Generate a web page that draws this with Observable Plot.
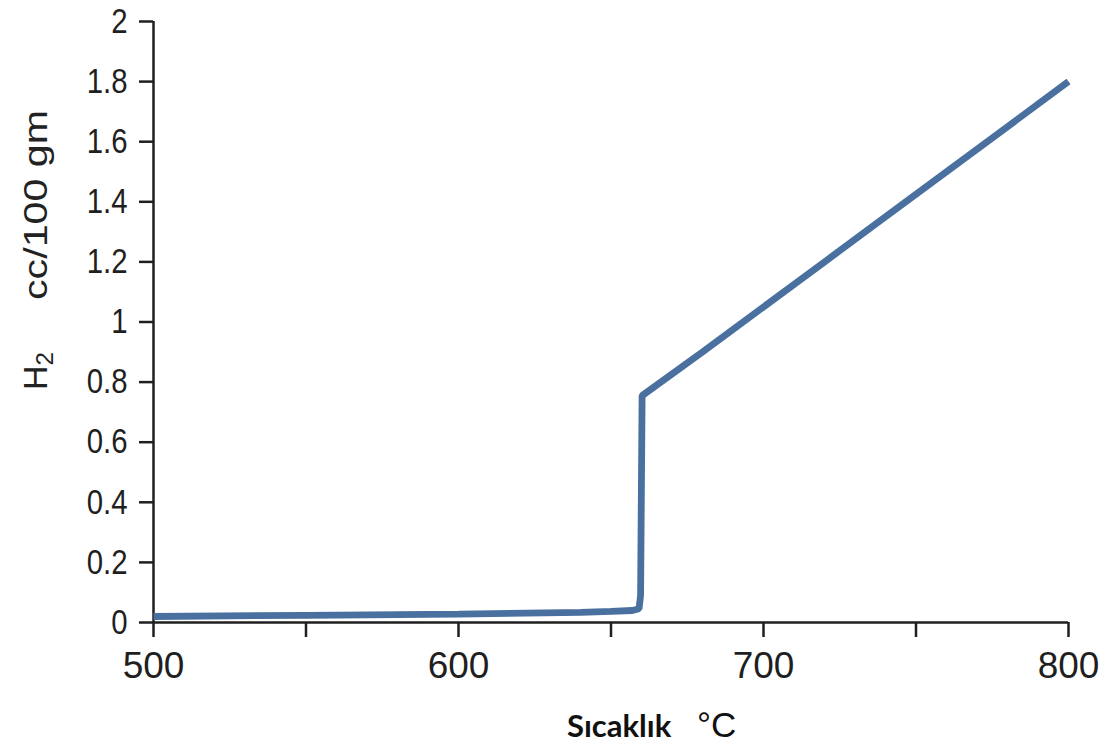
<!DOCTYPE html>
<html><head><meta charset="utf-8">
<script src="https://cdn.jsdelivr.net/npm/d3@7"></script>
<script src="https://cdn.jsdelivr.net/npm/@observablehq/plot@0.6"></script>
<style>
body{margin:0;background:#fff}
svg{display:block}
</style>
</head><body><div id="chart"></div>
<script>
// Temperature (°C) and dissolved hydrogen (cc/100 gm)
const temperature = [500, 550, 600, 640, 650, 657, 659.2, 659.7, 660.2, 680, 700, 720, 740, 760, 780, 800];
const hydrogen    = [0.02, 0.024, 0.028, 0.034, 0.037, 0.04, 0.046, 0.09, 0.755, 0.9, 1.05, 1.2, 1.35, 1.5, 1.65, 1.8];
const xTicks = [500, 550, 600, 650, 700, 750, 800];
const xTickLabels = ["500", "", "600", "", "700", "", "800"];
const yTicks = [0, 0.2, 0.4, 0.6, 0.8, 1, 1.2, 1.4, 1.6, 1.8, 2];
const yTickLabels = ["0", "0.2", "0.4", "0.6", "0.8", "1", "1.2", "1.4", "1.6", "1.8", "2"];
const xTitle = ["Sıcaklık", "°C"];
const yTitle = ["H", "2", "cc/100 gm"];

const data = temperature.map((t, i) => ({t, h: hydrogen[i]}));
const axisColor = "#1f1f1f";

const plot = Plot.plot({
  width: 1104,
  height: 745,
  marginLeft: 153,
  marginRight: 36,
  marginTop: 21,
  marginBottom: 123,
  style: {fontFamily: "'Liberation Sans', Arial, sans-serif", color: axisColor, background: "#fff"},
  x: {domain: [500, 800]},
  y: {domain: [0, 2]},
  marks: [
    Plot.axisX({ticks: xTicks, tickSize: 15, tickPadding: 14, strokeWidth: 2.5,
      tickFormat: d => xTickLabels[xTicks.indexOf(d)], fontSize: 37, label: null}),
    Plot.axisY({ticks: yTicks, tickSize: 14, tickPadding: 12, strokeWidth: 2.5,
      tickFormat: d => yTickLabels[yTicks.indexOf(d)], fontSize: 35, label: null}),
    Plot.ruleX([500], {y1: 0, y2: 2, stroke: axisColor, strokeWidth: 2.5}),
    Plot.ruleY([0], {x1: 500, x2: 800, stroke: axisColor, strokeWidth: 2.5}),
    Plot.line(data, {x: "t", y: "h", stroke: "#4a70a0", strokeWidth: 6.8,
      strokeLinejoin: "miter", strokeLinecap: "butt"})
  ]
});

const svg = d3.select(plot);
// narrower y tick digits like the reference
svg.selectAll("[aria-label='y-axis tick label'] text")
  .attr("transform", function() { return (this.getAttribute("transform") || "") + " scale(0.84,1)"; });

// x title
const xt = svg.append("text").attr("x", 567).attr("y", 737).attr("fill", "#111").attr("text-anchor", "start");
xt.append("tspan").text(xTitle[0]).style("font-family", "Lato, 'Open Sans', sans-serif")
  .style("font-weight", "bold").style("font-size", "31px");
xt.append("tspan").attr("x", 697).text(xTitle[1])
  .style("font-family", "'Liberation Sans', sans-serif").style("font-size", "35px");

// y title (rotated)
const yt1 = svg.append("text").attr("transform", "translate(47,390) rotate(-90)").attr("text-anchor", "start")
  .attr("fill", "#222").style("font-family", "'Liberation Sans', sans-serif").style("font-size", "34px");
yt1.append("tspan").text(yTitle[0]);
yt1.append("tspan").text(yTitle[1]).attr("dy", 6).style("font-size", "24px");
svg.append("text").attr("transform", "translate(47,300) rotate(-90)").attr("text-anchor", "start")
  .attr("fill", "#222").style("font-family", "'Liberation Sans', sans-serif").style("font-size", "34px")
  .attr("textLength", 190).attr("lengthAdjust", "spacingAndGlyphs")
  .text(yTitle[2]);

document.getElementById("chart").appendChild(plot);
</script>
</body></html>
